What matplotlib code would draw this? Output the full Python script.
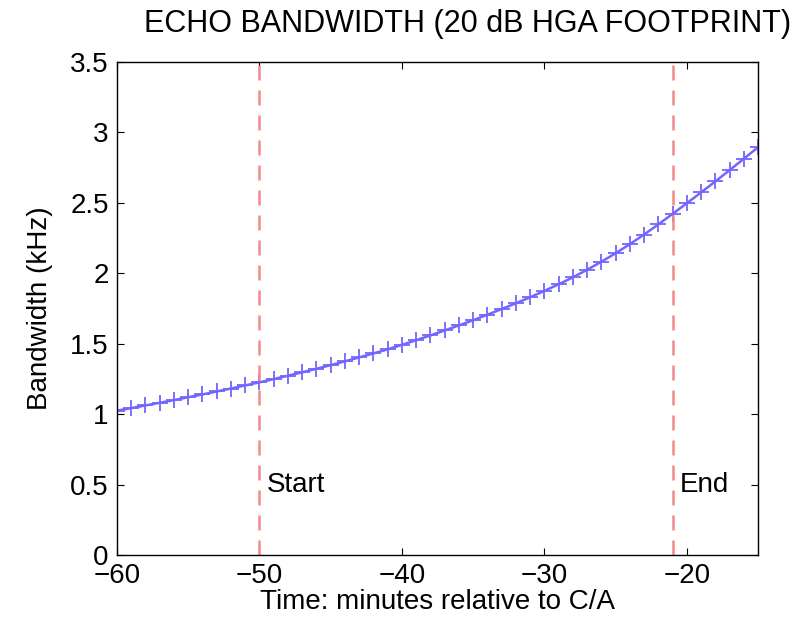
import numpy as np
from matplotlib import pyplot as plt

plt.rcParams['font.family'] = ['Liberation Sans', 'DejaVu Sans']
plt.rcParams['axes.unicode_minus'] = True

# Time relative to closest approach [min]
time_min = np.arange(-60, -14, 1)

# Echo bandwidth [kHz], one point per minute
bandwidth_khz = [
    1.025, 1.043, 1.062, 1.081, 1.100, 1.120, 1.140, 1.161, 1.182, 1.204,
    1.226, 1.249, 1.273, 1.297, 1.322, 1.348, 1.375, 1.403, 1.431, 1.460,
    1.492, 1.525, 1.559, 1.594, 1.630, 1.667, 1.706, 1.746, 1.787, 1.830,
    1.875, 1.922, 1.971, 2.025, 2.082, 2.142, 2.207, 2.275, 2.347, 2.422,
    2.497, 2.574, 2.652, 2.732, 2.813, 2.895,
]

# Observation window
startTime = -50
endTime = -21

fig = plt.figure(figsize=(8.03, 6.32), dpi=100)
ax = fig.add_axes([0.1457, 0.1218, 0.7983, 0.7801])

ax.plot(time_min, bandwidth_khz, color='#7366ff', lw=1.8, marker='+', ms=11, mew=1.3)
ax.axvline(startTime, color='#f08a8a', ls=(0, (6, 4)), lw=1.8)
ax.axvline(endTime, color='#f08a8a', ls=(0, (6, 4)), lw=1.8)

ax.text(startTime + 0.5, 0.5, 'Start', fontsize=20, ha='left', va='center')
ax.text(endTime + 0.5, 0.5, 'End', fontsize=20, ha='left', va='center')

ax.set_xlim(-60, -15)
ax.set_ylim(0, 3.5)
ax.set_xticks([-60, -50, -40, -30, -20])
ax.set_yticks(np.arange(0, 3.6, 0.5))
ax.set_yticklabels(['0', '0.5', '1', '1.5', '2', '2.5', '3', '3.5'])
ax.tick_params(direction='in', top=True, right=True, labelsize=20, length=5, pad=6)
for spine in ax.spines.values():
    spine.set_linewidth(1.0)

ax.set_xlabel('Time: minutes relative to C/A', fontsize=20, labelpad=0)
ax.set_ylabel('Bandwidth (kHz)', fontsize=20, labelpad=12)
fig.text(0.582, 0.962, 'ECHO BANDWIDTH (20 dB HGA FOOTPRINT)', fontsize=22, ha='center', va='center')

fig.savefig('out.png', dpi=100)
